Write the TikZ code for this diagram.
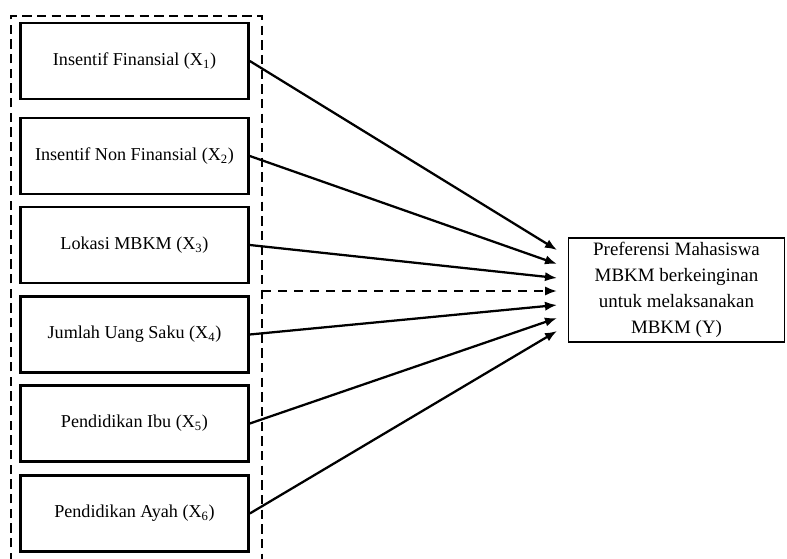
\documentclass[tikz,border=0pt]{standalone}
\usepackage{fontspec}
\setmainfont{Liberation Serif}
\usetikzlibrary{arrows.meta}
\tikzset{
  varbox/.style={draw, line width=1.9pt, minimum width=171pt, minimum height=57pt,
    inner sep=0pt, align=center, font=\fontsize{13.6}{16}\selectfont},
  ybox/.style={draw, line width=1pt, minimum width=162pt, minimum height=78pt,
    inner sep=0pt, align=center, font=\fontsize{14.2}{19.5}\selectfont},
  panah/.style={line width=1.7pt, -{Latex[length=9pt,width=7pt]}}
}
\begin{document}
\begin{tikzpicture}[x=0.75pt,y=-0.75pt]
\useasboundingbox (0,0) rectangle (787,559);
% kotak variabel bebas
\draw[line width=1.8pt, dash pattern=on 7pt off 4pt] (11,562)--(11,16)--(262,16)--(262,562);
\node[varbox] (x1) at (134.5,61) {Insentif Finansial (X\textsubscript{1})};
\node[varbox] (x2) at (134.5,156) {Insentif Non Finansial (X\textsubscript{2})};
\node[varbox] (x3) at (134.5,245) {Lokasi MBKM (X\textsubscript{3})};
\node[varbox] (x4) at (134.5,334.5) {Jumlah Uang Saku (X\textsubscript{4})};
\node[varbox] (x5) at (134.5,423.5) {Pendidikan Ibu (X\textsubscript{5})};
\node[varbox] (x6) at (134.5,513.5) {Pendidikan Ayah (X\textsubscript{6})};
% variabel terikat
\node[ybox] (y) at (676.5,290) {Preferensi Mahasiswa\\MBKM berkeinginan\\untuk melaksanakan\\MBKM (Y)};
% ujung panah
\coordinate (t1) at (557,250);
\coordinate (t2) at (557,264);
\coordinate (t3) at (557,278);
\coordinate (t4) at (557,291);
\coordinate (t5) at (557,305);
\coordinate (t6) at (557,318);
\coordinate (t7) at (557,331);
\coordinate (s) at (262,291);
\draw[panah] (x1.east) -- (t1);
\draw[panah] (x2.east) -- (t2);
\draw[panah] (x3.east) -- (t3);
\draw[panah, dash pattern=on 7pt off 5pt] (s) -- (t4);
\draw[panah] (x4.east) -- (t5);
\draw[panah] (x5.east) -- (t6);
\draw[panah] (x6.east) -- (t7);
\end{tikzpicture}
\end{document}
